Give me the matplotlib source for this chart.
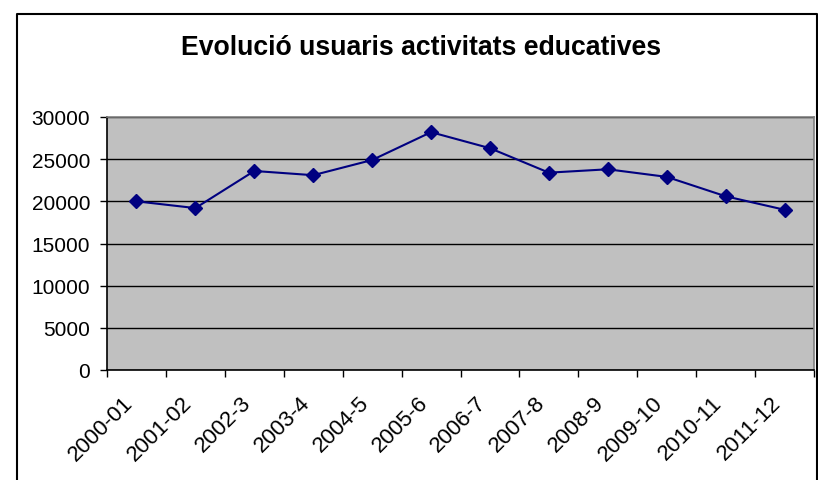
import matplotlib.pyplot as plt
import matplotlib.transforms as mtransforms
import numpy as np
from matplotlib.lines import Line2D

# data
years = ["2000-01", "2001-02", "2002-3", "2003-4", "2004-5", "2005-6",
         "2006-7", "2007-8", "2008-9", "2009-10", "2010-11", "2011-12"]
users = [20000, 19200, 23600, 23100, 24900, 28200,
         26300, 23400, 23800, 22900, 20600, 19000]
yticks = [0, 5000, 10000, 15000, 20000, 25000, 30000]

plt.rcParams['font.family'] = ['Liberation Sans', 'DejaVu Sans']

fig = plt.figure(figsize=(8.18, 4.81), dpi=100)
ax = fig.add_axes([107/818, 1-371/481, (814-107)/818, (371-118)/481])

x = np.arange(len(years))
ax.plot(x, users, color="#000080", lw=1.5, marker="D", markersize=7,
        markerfacecolor="#000080", markeredgecolor="#000080")

ax.set_facecolor("#c0c0c0")
ax.set_xlim(-0.5, len(years)-0.5)
ax.set_ylim(0, 30000)
ax.set_yticks(yticks)
ax.set_yticklabels([str(v) for v in yticks], fontsize=15)
ax.yaxis.grid(True, color="black", lw=1)
ax.set_axisbelow(True)

# labels at category centres, tick marks at the boundaries
ax.set_xticks(x)
ax.set_xticklabels(years, rotation=45, ha="right", rotation_mode="anchor", fontsize=16)
ax.set_xticks(np.arange(-0.5, len(years)), minor=True)
ax.tick_params(axis="x", which="major", length=0, pad=7)
ax.tick_params(axis="x", which="minor", length=5, width=1, direction="out")
ax.tick_params(axis="y", length=5, width=1, direction="out", pad=7)
shift = mtransforms.ScaledTranslation(-14/100, -12/100, fig.dpi_scale_trans)
for lab in ax.get_xticklabels():
    lab.set_transform(lab.get_transform() + shift)

ax.spines["top"].set_color("#808080")
ax.spines["right"].set_color("#808080")
ax.spines["left"].set_color("black")
ax.spines["bottom"].set_color("black")
for s in ax.spines.values():
    s.set_linewidth(1.2)

fig.text(421/818, 1-48/481, "Evolució usuaris activitats educatives",
         ha="center", va="center", fontsize=19.2, fontweight="bold")

# outer chart border
bx0, by1, bx1 = 16.5/818, 1-14.5/481, 816.5/818
fig.add_artist(Line2D([bx0, bx0, bx1, bx1], [-0.1, by1, by1, -0.1],
                      transform=fig.transFigure, color="black", lw=1.5))

fig.savefig("out.png", dpi=100)
